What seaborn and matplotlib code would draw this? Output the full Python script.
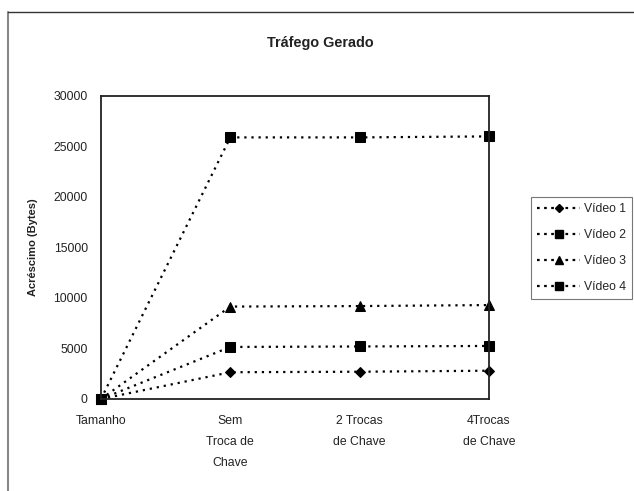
import pandas as pd
import matplotlib.pyplot as plt
import seaborn as sns
from matplotlib.lines import Line2D

categorias = ['Tamanho', 'Sem\nTroca de\nChave', '2 Trocas\nde Chave', '4Trocas\nde Chave']
series = ['Vídeo 1', 'Vídeo 2', 'Vídeo 3', 'Vídeo 4']
video1 = [0, 2650, 2700, 2800]
video2 = [0, 5150, 5200, 5250]
video3 = [0, 9150, 9200, 9300]
video4 = [0, 25900, 25900, 26000]
y_ticks = [0, 5000, 10000, 15000, 20000, 25000, 30000]

sns.set_style('white')
plt.rcParams['font.family'] = ['Liberation Sans', 'DejaVu Sans']

rows = []
for nome, vals in zip(series, [video1, video2, video3, video4]):
    for i, v in enumerate(vals):
        rows.append({'pos': i, 'valor': v, 'serie': nome})
df = pd.DataFrame(rows)

fig = plt.figure(figsize=(6.34, 4.91), dpi=100)
ax = fig.add_axes([0.1593, 0.1874, 0.6120, 0.6171])

marcadores = {'Vídeo 1': 'D', 'Vídeo 2': 's', 'Vídeo 3': '^', 'Vídeo 4': 's'}
tamanhos = {'Vídeo 1': 5, 'Vídeo 2': 7, 'Vídeo 3': 6.5, 'Vídeo 4': 7}

for nome in series:
    sub = df[df['serie'] == nome]
    sns.lineplot(data=sub, x='pos', y='valor', ax=ax, color='black',
                 marker=marcadores[nome], markersize=tamanhos[nome],
                 markeredgecolor='black', linewidth=1.6, clip_on=False,
                 legend=False)
for ln in ax.lines:
    ln.set_dashes((1, 2.2))

ax.set_xlim(0, 3)
ax.set_ylim(0, 30000)
ax.set_xticks(range(len(categorias)))
ax.set_xticklabels(categorias, fontsize=8.8, linespacing=2.0, color='#222222')
ax.set_yticks(y_ticks)
ax.set_yticklabels([str(t) for t in y_ticks], fontsize=8.8, color='#222222')
ax.set_xlabel('')
ax.set_ylabel('')
ax.tick_params(axis='both', direction='inout', length=7, width=0.8, color='#222222')
ax.tick_params(axis='x', pad=8)
ax.tick_params(axis='y', pad=6)
for s in ax.spines.values():
    s.set_visible(True)
    s.set_color('#222222')
    s.set_linewidth(1.3)

fig.text(320 / 634, 1 - 43 / 491, 'Tráfego Gerado', ha='center', va='center',
         fontsize=10.4, fontweight='bold', color='#222222')
fig.text(33 / 634, 1 - 247 / 491, 'Acréscimo (Bytes)', ha='center', va='center',
         rotation=90, fontsize=8, fontweight='bold', color='#222222')

handles = []
for nome in series:
    handles.append(Line2D([0], [0], color='black', linewidth=1.6, dashes=(1.2, 2),
                          marker=marcadores[nome], markersize=tamanhos[nome] * 0.85))
leg = fig.legend(handles, series, loc='upper left',
                 bbox_to_anchor=(531 / 634, 1 - 197 / 491), fontsize=8.8,
                 frameon=True, fancybox=False, handlelength=3.5,
                 labelspacing=1.15, borderpad=0.5, handletextpad=0.3,
                 borderaxespad=0)
leg.get_frame().set_edgecolor('#555555')
leg.get_frame().set_linewidth(0.8)

# moldura externa
fig.add_artist(Line2D([8 / 634, 8 / 634], [0, 1 - 12 / 491], color='#888888',
                      linewidth=1.5, transform=fig.transFigure))
fig.add_artist(Line2D([8 / 634, 1], [1 - 12 / 491, 1 - 12 / 491], color='#333333',
                      linewidth=1, transform=fig.transFigure))

fig.savefig('out.png', dpi=100)
